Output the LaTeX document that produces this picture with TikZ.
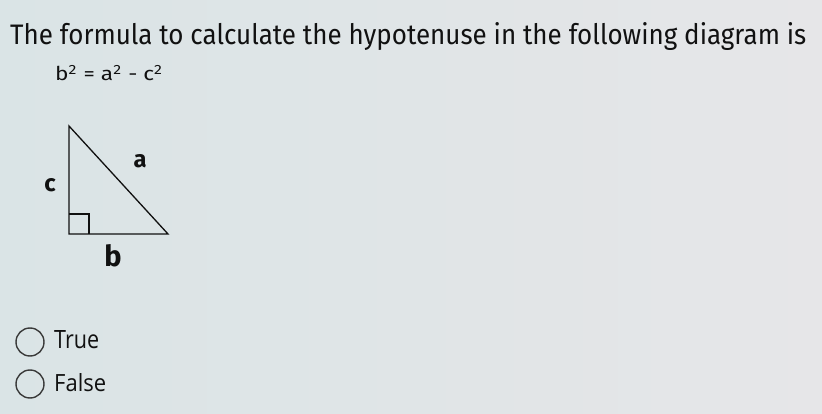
\documentclass[tikz,border=0pt]{standalone}
\usepackage{fontspec}
\setmainfont{Open Sans}
\newfontfamily\comicfont{Fira Sans}
\usetikzlibrary{calc}
\definecolor{bgleft}{HTML}{DAE4E6}
\definecolor{bgright}{HTML}{E6E6E8}
\definecolor{inkc}{HTML}{111111}
\definecolor{circc}{HTML}{3A3A3A}
\tikzset{
  lbl/.style={inner sep=0pt, text=inkc, font=\comicfont\bfseries},
  opt/.style={draw=circc, line width=1.4pt, circle, minimum size=28pt, inner sep=0pt},
  opttext/.style={inner sep=0pt, anchor=base west, text=inkc}
}
\begin{document}
\begin{tikzpicture}[x=1pt,y=-1pt]
  \shade[left color=bgleft, right color=bgright] (0,0) rectangle (822,414);
  \useasboundingbox (0,0) rectangle (822,414);
  % title
  \node[opttext] (title) at (10,45) {\resizebox{796pt}{22pt}{\comicfont The formula to calculate the hypotenuse in the following diagram is}};
  \node[opttext] (formula) at (55,81) {\resizebox{108pt}{16pt}{\comicfont b\textsuperscript{2} = a\textsuperscript{2} - c\textsuperscript{2}}};
  % triangle
  \coordinate (T) at (69,126);
  \coordinate (BL) at (69,234);
  \coordinate (BR) at (168,234);
  \draw[inkc, line width=1.3pt, line join=miter] (T) -- (BL) -- (BR) -- cycle;
  \draw[inkc, line width=1.1pt] ($(BL)+(0,-20)$) -- ($(BL)+(20,-20)$) -- ($(BL)+(20,0)$);
  \node[lbl, anchor=base] (la) at (140,168) {\resizebox{!}{13pt}{a}};
  \node[lbl, anchor=base] (lc) at (50,192) {\resizebox{!}{13pt}{c}};
  \node[lbl, anchor=base] (lb) at (113,266) {\resizebox{!}{22pt}{b}};
  % options
  \node[opt] (c1) at (30,342) {};
  \node[opt] (c2) at (30,384) {};
  \node[opttext] (ttrue) at (54,348) {\resizebox{45pt}{18pt}{True}};
  \node[opttext] (tfalse) at (54,391) {\resizebox{52pt}{18pt}{False}};
\end{tikzpicture}
\end{document}
